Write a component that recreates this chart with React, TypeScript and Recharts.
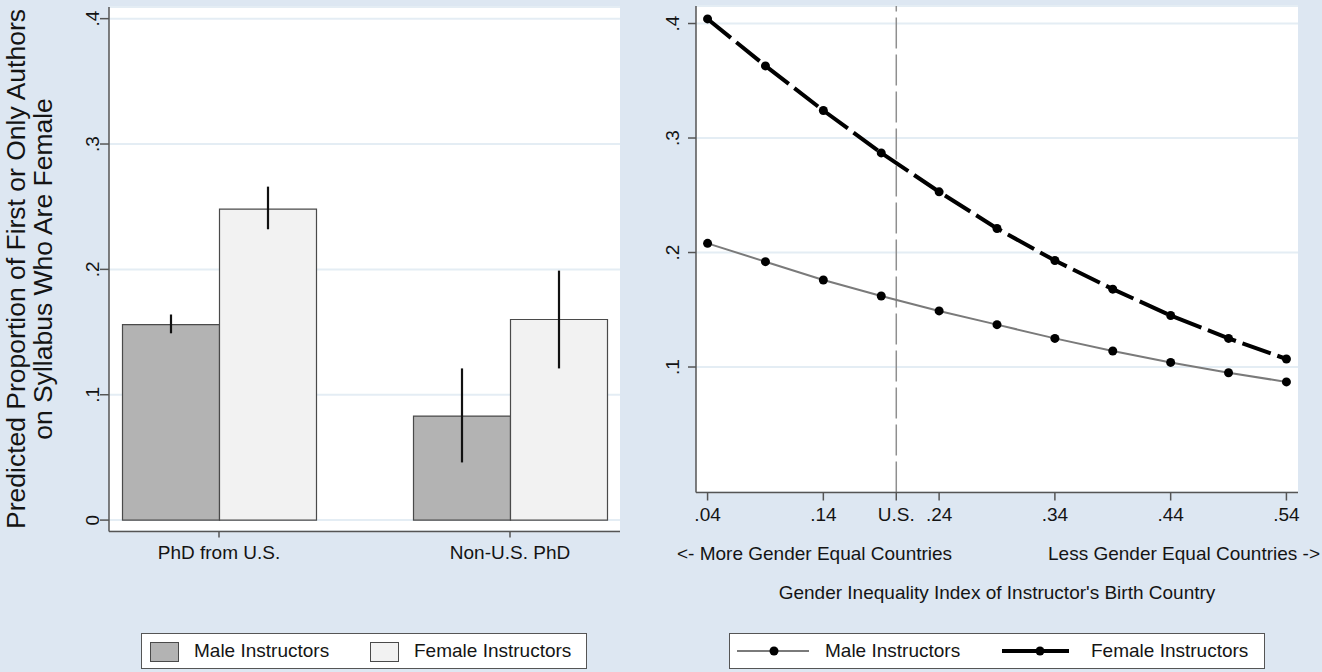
import React from 'react';
import {
  BarChart,
  Bar,
  ErrorBar,
  LineChart,
  Line,
  XAxis,
  YAxis,
  CartesianGrid,
  ReferenceLine,
} from 'recharts';

// left panel: predicted share by where the PhD was earned
const groups = ['PhD from U.S.', 'Non-U.S. PhD'];
const groupPos = [0, 1];
const maleShare = [0.156, 0.083];
const maleLow = [0.149, 0.046];
const maleHigh = [0.164, 0.121];
const femaleShare = [0.248, 0.16];
const femaleLow = [0.232, 0.121];
const femaleHigh = [0.266, 0.199];
const barTicks = [0, 0.1, 0.2, 0.3, 0.4];

// right panel: predicted share by gender inequality index of birth country
const giiValues = [0.04, 0.09, 0.14, 0.19, 0.24, 0.29, 0.34, 0.39, 0.44, 0.49, 0.54];
const maleByGii = [0.208, 0.192, 0.176, 0.162, 0.149, 0.137, 0.125, 0.114, 0.104, 0.095, 0.087];
const femaleByGii = [0.404, 0.363, 0.324, 0.287, 0.253, 0.221, 0.193, 0.168, 0.145, 0.125, 0.107];
const usGii = 0.203;
const giiTicks = [0.04, 0.14, usGii, 0.24, 0.34, 0.44, 0.54];
const lineTicks = [0.1, 0.2, 0.3, 0.4];

const seriesNames = ['Male Instructors', 'Female Instructors'];

const FONT = '"Liberation Sans", Arial, sans-serif';
const BG = '#dde7f2';
const AXIS = '#555555';
const GRID = '#e4edf4';
const INK = '#141414';

const barData = groups.map((g, i) => ({
  pos: groupPos[i],
  name: g,
  male: maleShare[i],
  maleErr: [maleShare[i] - maleLow[i], maleHigh[i] - maleShare[i]],
  female: femaleShare[i],
  femaleErr: [femaleShare[i] - femaleLow[i], femaleHigh[i] - femaleShare[i]],
}));

const lineData = giiValues.map((x, i) => ({
  gii: x,
  male: maleByGii[i],
  female: femaleByGii[i],
}));

const fmtShare = (v: number) => (v === 0 ? '0' : v.toFixed(1).replace(/^0/, ''));
const fmtGii = (v: number) => (v === usGii ? 'U.S.' : v.toFixed(2).replace(/^0/, ''));

// y tick labels in Stata are turned on their side
const RotTick = (props: any) => {
  const { x, y, payload } = props;
  return (
    <text
      x={x}
      y={y}
      transform={`rotate(-90 ${x} ${y})`}
      textAnchor="middle"
      fontSize={19}
      fontFamily={FONT}
      fill={INK}
    >
      {fmtShare(payload.value)}
    </text>
  );
};

const LeftYLabel = () => (
  <g fontFamily={FONT} fontSize={26.5} fill={INK}>
    <text x={24.5} y={269} transform="rotate(-90 24.5 269)" textAnchor="middle">
      Predicted Proportion of First or Only Authors
    </text>
    <text x={51.5} y={269} transform="rotate(-90 51.5 269)" textAnchor="middle">
      on Syllabus Who Are Female
    </text>
  </g>
);

const RightXLabel = () => (
  <g fontFamily={FONT} fontSize={19} fill={INK}>
    <text x={37} y={559.5} textAnchor="start">
      {'<- More Gender Equal Countries'}
    </text>
    <text x={680} y={559.5} textAnchor="end">
      {'Less Gender Equal Countries ->'}
    </text>
    <text x={357} y={598.5} textAnchor="middle">
      Gender Inequality Index of Instructor's Birth Country
    </text>
  </g>
);

const legendText: React.CSSProperties = {
  position: 'absolute',
  top: 0,
  lineHeight: '34px',
  fontSize: 19,
  color: INK,
  whiteSpace: 'nowrap',
};

export default function App() {
  return (
    <div
      style={{
        position: 'fixed',
        left: 0,
        top: 0,
        width: 1322,
        height: 672,
        background: BG,
        overflow: 'hidden',
        fontFamily: FONT,
      }}
    >
      <div style={{ position: 'absolute', left: 0, top: 0 }}>
        <BarChart
          width={640}
          height={672}
          data={barData}
          margin={{ top: 7, right: 20, left: 60, bottom: 110 }}
          barGap={0}
          barSize={97}
        >
          <CartesianGrid vertical={false} fill="#ffffff" stroke={GRID} strokeWidth={2} />
          <XAxis
            dataKey="pos"
            type="number"
            domain={[-0.378, 1.378]}
            ticks={groupPos}
            interval={0}
            tickFormatter={(v: number) => groups[v]}
            height={30.5}
            tickSize={6}
            tickMargin={8}
            axisLine={{ stroke: AXIS, strokeWidth: 1.5 }}
            tickLine={{ stroke: AXIS, strokeWidth: 1.5 }}
            tick={{ fill: INK, fontSize: 19, fontFamily: FONT }}
          />
          <YAxis
            type="number"
            domain={[-0.0091, 0.4093]}
            ticks={barTicks}
            interval={0}
            width={49}
            tickSize={9}
            tickMargin={1}
            axisLine={{ stroke: AXIS, strokeWidth: 1.5 }}
            tickLine={{ stroke: AXIS, strokeWidth: 1.5 }}
            tick={(p: any) => <RotTick {...p} />}
            label={() => <LeftYLabel />}
          />
          <Bar dataKey="male" name={seriesNames[0]} fill="#b3b3b3" stroke="#4a4a4a" strokeWidth={1.2} isAnimationActive={false}>
            <ErrorBar dataKey="maleErr" width={0} stroke="#111" strokeWidth={2.2} direction="y" />
          </Bar>
          <Bar dataKey="female" name={seriesNames[1]} fill="#f2f2f2" stroke="#4a4a4a" strokeWidth={1.2} isAnimationActive={false}>
            <ErrorBar dataKey="femaleErr" width={0} stroke="#111" strokeWidth={2.2} direction="y" />
          </Bar>
        </BarChart>
      </div>

      <div style={{ position: 'absolute', left: 640, top: 0 }}>
        <LineChart
          width={682}
          height={672}
          data={lineData}
          margin={{ top: 6, right: 24, left: 0, bottom: 149.5 }}
        >
          <CartesianGrid vertical={false} fill="#ffffff" stroke={GRID} strokeWidth={2} />
          <XAxis
            dataKey="gii"
            type="number"
            domain={[0.03, 0.55]}
            ticks={giiTicks}
            interval={0}
            tickFormatter={fmtGii}
            height={30}
            tickSize={8}
            tickMargin={7}
            axisLine={{ stroke: AXIS, strokeWidth: 1.5 }}
            tickLine={{ stroke: AXIS, strokeWidth: 1.5 }}
            tick={{ fill: INK, fontSize: 19, fontFamily: FONT }}
            label={() => <RightXLabel />}
          />
          <YAxis
            type="number"
            domain={[-0.0096, 0.4153]}
            ticks={lineTicks}
            interval={0}
            width={56}
            tickSize={8}
            tickMargin={9}
            axisLine={{ stroke: AXIS, strokeWidth: 1.5 }}
            tickLine={{ stroke: AXIS, strokeWidth: 1.5 }}
            tick={(p: any) => <RotTick {...p} />}
          />
          <ReferenceLine x={usGii} stroke="#8f8f8f" strokeWidth={1.5} strokeDasharray="31 6" />
          <Line
            type="linear"
            dataKey="male"
            name={seriesNames[0]}
            stroke="#7a7a7a"
            strokeWidth={2}
            dot={{ r: 4.5, fill: '#000', strokeWidth: 0 }}
            isAnimationActive={false}
          />
          <Line
            type="linear"
            dataKey="female"
            name={seriesNames[1]}
            stroke="#000"
            strokeWidth={4}
            strokeDasharray="30 7"
            dot={{ r: 4.5, fill: '#000', strokeWidth: 0 }}
            isAnimationActive={false}
          />
        </LineChart>
      </div>

      {/* bar legend */}
      <div
        style={{
          position: 'absolute',
          left: 141,
          top: 633,
          width: 446,
          height: 36,
          background: '#fff',
          border: `1px solid ${AXIS}`,
          boxSizing: 'border-box',
        }}
      >
        <div style={{ position: 'absolute', left: 8, top: 8, width: 27, height: 18, background: '#b3b3b3', border: '1px solid #4a4a4a' }} />
        <span style={{ ...legendText, left: 52 }}>{seriesNames[0]}</span>
        <div style={{ position: 'absolute', left: 228, top: 8, width: 27, height: 18, background: '#f2f2f2', border: '1px solid #4a4a4a' }} />
        <span style={{ ...legendText, left: 272 }}>{seriesNames[1]}</span>
      </div>

      {/* line legend */}
      <div
        style={{
          position: 'absolute',
          left: 729,
          top: 633,
          width: 536,
          height: 36,
          background: '#fff',
          border: `1px solid ${AXIS}`,
          boxSizing: 'border-box',
        }}
      >
        <svg width={536} height={34} style={{ position: 'absolute', left: 0, top: 0 }}>
          <line x1={7} x2={79} y1={17} y2={17} stroke="#7a7a7a" strokeWidth={2} />
          <circle cx={44} cy={17} r={4.5} fill="#000" />
          <line x1={272} x2={339} y1={17} y2={17} stroke="#000" strokeWidth={4} />
          <circle cx={310} cy={17} r={4.5} fill="#000" />
        </svg>
        <span style={{ ...legendText, left: 95 }}>{seriesNames[0]}</span>
        <span style={{ ...legendText, left: 361 }}>{seriesNames[1]}</span>
      </div>
    </div>
  );
}
